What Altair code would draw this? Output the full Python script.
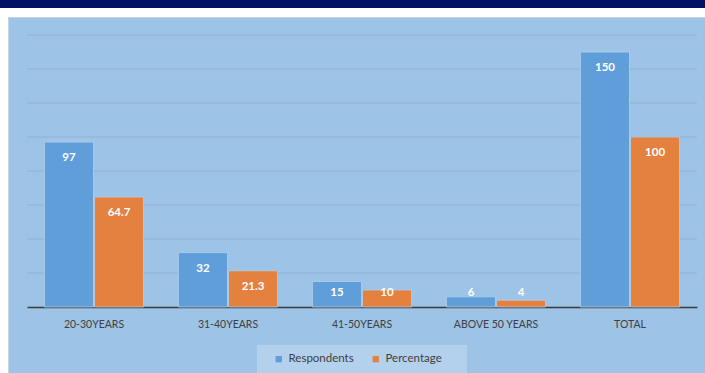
import altair as alt
import pandas as pd

groups = ["20-30YEARS", "31-40YEARS", "41-50YEARS", "ABOVE 50 YEARS", "TOTAL"]
respondents = [97, 32, 15, 6, 150]
percentage = [64.7, 21.3, 10, 4, 100]
series = ["Respondents", "Percentage"]
colors = ["#5f9ed8", "#e4813f"]
grid_values = [20, 40, 60, 80, 100, 120, 140, 160]

rows = []
for g, r, p in zip(groups, respondents, percentage):
    rows.append({"group": g, "series": "Respondents", "value": r})
    rows.append({"group": g, "series": "Percentage", "value": p})
df = pd.DataFrame(rows)
grid_df = pd.DataFrame({"v": grid_values})

W, H = 670, 272
PL, PT, PR, PB = 27, 35, 8, 66

x_enc = alt.X("group:N", sort=groups, title=None,
              scale=alt.Scale(paddingInner=0.26, paddingOuter=0.13),
              axis=alt.Axis(labelAngle=0, labelColor="#404040", labelFontSize=10.5,
                            labelFont="Lato", ticks=False, domain=True, domainColor="#3a3a3a",
                            domainWidth=1.6, labelPadding=12, grid=False))
y_scale = alt.Scale(domain=[0, 160], nice=False)
xoff = alt.XOffset("series:N", sort=series, scale=alt.Scale(paddingInner=0.02))
color = alt.Color("series:N", sort=series, scale=alt.Scale(domain=series, range=colors),
                  legend=alt.Legend(title=None, orient="none", direction="horizontal",
                                    legendX=246, legendY=318, symbolType="square",
                                    symbolSize=40, symbolStrokeWidth=0, labelFont="Lato",
                                    labelFontSize=11.5, labelColor="#404040",
                                    columnPadding=16, padding=0, labelOffset=4))

grid = alt.Chart(grid_df).mark_rule(color="#8fb2d5", strokeWidth=1).encode(
    x=alt.value(0), x2=alt.value(W),
    y=alt.Y("v:Q", scale=y_scale, axis=None),
)

bars = alt.Chart(df).mark_bar(stroke="#b3d0ee", strokeWidth=1, strokeOpacity=0.8).encode(
    x=x_enc,
    xOffset=xoff,
    y=alt.Y("value:Q", scale=y_scale, title=None, axis=None),
    color=color,
)

labels = alt.Chart(df).transform_calculate(
    lab_y="max(datum.value - 9.5, 8.3)"
).mark_text(color="white", fontWeight="bold", font="Lato", fontSize=11.5, baseline="middle").encode(
    x=alt.X("group:N", sort=groups),
    xOffset=alt.XOffset("series:N", sort=series),
    y=alt.Y("lab_y:Q", scale=y_scale),
    text=alt.Text("value:Q"),
)

deco_df = pd.DataFrame({"k": [0]})
def rect(x1, x2, y1, y2, **kw):
    return alt.Chart(deco_df).mark_rect(clip=False, **kw).encode(
        x=alt.value(x1), x2=alt.value(x2), y=alt.value(y1), y2=alt.value(y2))

deco = [
    rect(-PL, W + PR, -PT, -27, fill="#001166"),
    rect(-PL, -22, -27, -23, fill="#001166"),
    rect(-PL + 0, W + PR, -27, -18, fill="white"),
    rect(-PL, -19, -23, H + PB, fill="white"),
    rect(-18.5, W + PR + 2, -17.5, H + PB + 2, fill="transparent", stroke="#c6d3e0", strokeWidth=1),
    rect(230, 440, 310, H + PB + 2, fill="#b3d0ed"),
]

chart = alt.layer(*deco, grid, bars, labels).properties(
    width=W, height=H,
    autosize=alt.AutoSizeParams(type="none"),
    padding={"left": PL, "top": PT, "right": PR, "bottom": PB},
    background="#9dc3e6",
).configure_view(stroke=None)

chart.save("out.html", embed_options={"renderer": "svg", "actions": False})
